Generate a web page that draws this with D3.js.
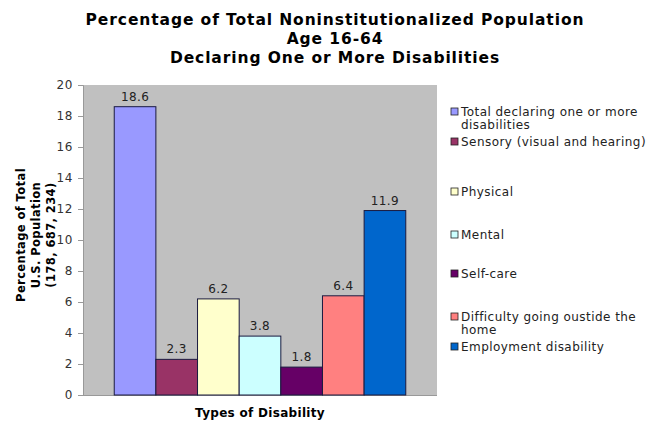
<!DOCTYPE html>
<html><head><meta charset="utf-8">
<script src="https://cdn.jsdelivr.net/npm/d3@7/dist/d3.min.js"></script>
<style>body{margin:0;background:#fff}svg{display:block}</style>
</head><body>
<svg id="c" width="646" height="421"></svg>
<script>
const categories = ["Total declaring one or more disabilities","Sensory (visual and hearing)","Physical","Mental","Self-care","Difficulty going oustide the home","Employment disability"];
const values = [18.6, 2.3, 6.2, 3.8, 1.8, 6.4, 11.9];
const colors = ["#9999FF","#993366","#FFFFCC","#CCFFFF","#660066","#FF8080","#0066CC"];
const yTicks = [0,2,4,6,8,10,12,14,16,18,20];
const legendLines = [["Total declaring one or more","disabilities"],["Sensory (visual and hearing)"],["Physical"],["Mental"],["Self-care"],["Difficulty going oustide the","home"],["Employment disability"]];
const titleLines = ["Percentage of Total Noninstitutionalized Population","Age 16-64","Declaring One or More Disabilities"];
const yTitleLines = ["Percentage of Total","U.S. Population","(178, 687, 234)"];
const xTitle = "Types of Disability";

const svg = d3.select("#c");
const font = "DejaVu Sans, Verdana, sans-serif";
const L=83, R=437, T=85, B=395;

const x = d3.scaleBand().domain(categories).range([L,R]).paddingInner(0).paddingOuter(0.75);
const y = d3.scaleLinear().domain([0,20]).range([B,T]);

svg.append("rect").attr("x",L).attr("y",T).attr("width",R-L).attr("height",B-T).attr("fill","#C0C0C0");

const yAxis = svg.append("g").attr("transform",`translate(${L},0)`)
  .call(d3.axisLeft(y).tickValues(yTicks).tickSize(5).tickPadding(5).tickFormat(d3.format("d")));
yAxis.select(".domain").attr("stroke","#999");
yAxis.selectAll(".tick line").attr("stroke","#999");
yAxis.selectAll("text").attr("font-family",font).attr("font-size",12).attr("letter-spacing",0.6).attr("fill","#333");

svg.append("line").attr("x1",L).attr("x2",R).attr("y1",B+0.5).attr("y2",B+0.5).attr("stroke","#999");

svg.selectAll(".bar").data(values).join("rect")
  .attr("x",(d,i)=>x(categories[i])).attr("y",d=>y(d))
  .attr("width",x.bandwidth()).attr("height",d=>B-y(d))
  .attr("fill",(d,i)=>colors[i]).attr("stroke","#1a1a40").attr("stroke-width",1);

svg.selectAll(".lbl").data(values).join("text")
  .attr("x",(d,i)=>x(categories[i])+x.bandwidth()/2).attr("y",d=>y(d)-6)
  .attr("text-anchor","middle").attr("font-family",font).attr("font-size",12).attr("letter-spacing",0.4).attr("fill","#222")
  .text(d=>d.toFixed(1));

svg.selectAll(".title").data(titleLines).join("text")
  .attr("x",335).attr("y",(d,i)=>25+i*19).attr("text-anchor","middle")
  .attr("font-family",font).attr("font-weight","bold").attr("font-size",15.5).attr("letter-spacing",0.9).attr("fill","#000")
  .text(d=>d);

svg.selectAll(".ytitle").data(yTitleLines).join("text")
  .attr("transform",(d,i)=>`translate(${25+i*15},235) rotate(-90)`).attr("text-anchor","middle")
  .attr("font-family",font).attr("font-weight","bold").attr("font-size",11.5).attr("letter-spacing",0.4).attr("fill","#000")
  .text(d=>d);

svg.append("text").attr("x",(L+R)/2).attr("y",417).attr("text-anchor","middle")
  .attr("font-family",font).attr("font-weight","bold").attr("font-size",12).attr("letter-spacing",0.3).attr("fill","#000").text(xTitle);

const legendY = [112,142,192,235,274,317,347];
const lg = svg.append("g");
categories.forEach((c,i)=>{
  const g = lg.append("g").attr("transform",`translate(451,${legendY[i]})`);
  g.append("rect").attr("x",0).attr("y",-4).attr("width",7).attr("height",7).attr("fill",colors[i]).attr("stroke","#222").attr("stroke-width",0.8);
  g.selectAll("text").data(legendLines[i]).join("text")
    .attr("x",10).attr("y",(d,j)=>4+j*13)
    .attr("font-family",font).attr("font-size",12).attr("letter-spacing",0.45).attr("fill","#222").text(d=>d);
});
</script>
</body></html>
